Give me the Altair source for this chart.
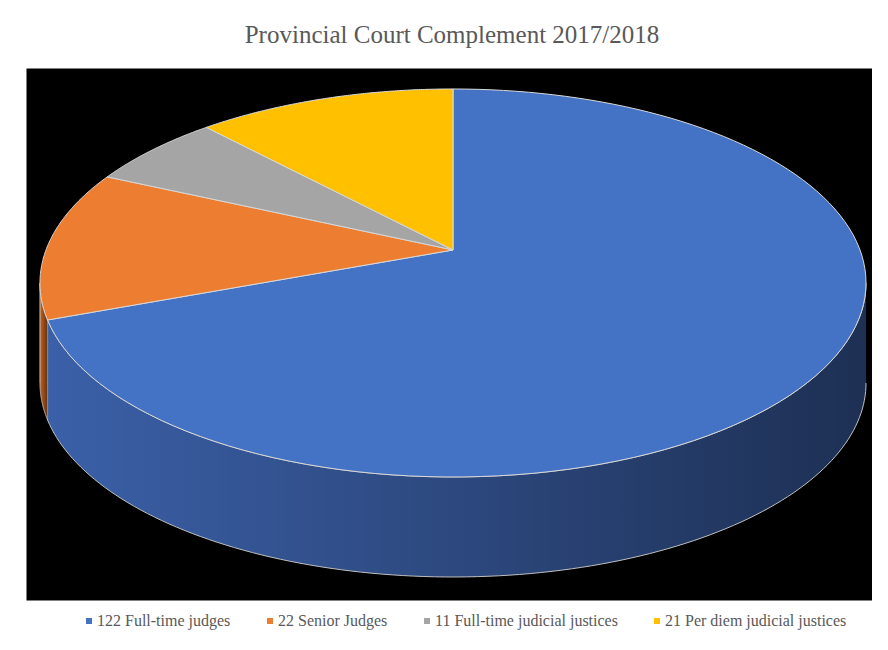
import altair as alt
import pandas as pd

categories = ["122 Full-time judges", "22 Senior Judges",
              "11 Full-time judicial justices", "21 Per diem judicial justices"]
values = [122, 22, 11, 21]
top_colors = ["#4472C4", "#ED7D31", "#A5A5A5", "#FFC000"]
side_colors = ["#3B60A8", "#C4631F", "#7F7F7F", "#C49400"]

df = pd.DataFrame({"category": categories, "value": values,
                   "idx": list(range(len(categories)))})

SERIF = "Liberation Serif, Times New Roman, Times, DejaVu Serif, serif"
P = 0.17        # perspective strength
SX = 0.9855     # horizontal radius factor
SY = 0.9711     # vertical radius factor
DEPTH = 0.5155  # thickness of the pie
N = 120         # points along each rim arc

def proj_x(th):
    return f"{SX}*sin({th})/(1 + {P}*cos({th}))"

def proj_y(th):
    return f"{SY}*cos({th})/(1 + {P}*cos({th}))"

base = alt.Chart(df).transform_joinaggregate(
    total="sum(value)"
).transform_window(
    cum="sum(value)", sort=[alt.SortField("idx")], frame=[None, 0]
).transform_calculate(
    s0="2*PI*(datum.cum - datum.value)/datum.total",
    s1="2*PI*datum.cum/datum.total",
)

xs = alt.Scale(domain=[-1.0339, 1.01453], nice=False, zero=False)
ys = alt.Scale(domain=[-1.8041, 0.9381], nice=False, zero=False)

top = base.transform_calculate(
    ks=f"sequence(-1, {N + 2})"
).transform_flatten(["ks"], as_=["k"]).transform_calculate(
    th=f"datum.s0 + (datum.s1 - datum.s0)*clamp(datum.k, 0, {N})/{N}",
    apex=f"datum.k < 0 || datum.k > {N}",
).transform_calculate(
    px=f"datum.apex ? 0 : {proj_x('datum.th')}",
    py=f"datum.apex ? 0 : {proj_y('datum.th')}",
).mark_line(stroke="#D9D9D9", strokeWidth=1, interpolate="linear").encode(
    x=alt.X("px:Q", scale=xs, axis=None),
    y=alt.Y("py:Q", scale=ys, axis=None),
    fill=alt.Fill("category:N",
                  scale=alt.Scale(domain=categories, range=top_colors),
                  legend=alt.Legend(orient="none", legendX=55, legendY=545,
                                    direction="horizontal", symbolType="square",
                                    symbolSize=36, symbolStrokeWidth=0,
                                    labelFont=SERIF, labelFontSize=16,
                                    labelColor="#595959", columnPadding=31,
                                    labelOffset=0, labelLimit=400, title=None)),
    order=alt.Order("k:Q"),
)

side_base = base.transform_calculate(
    a=f"max(datum.s0, acos(-{P}))", b=f"min(datum.s1, 2*PI - acos(-{P}))"
).transform_filter("datum.a < datum.b").transform_calculate(
    ks=f"sequence(0, {2 * N + 2})"
).transform_flatten(["ks"], as_=["k"]).transform_calculate(
    th=(f"datum.k <= {N} ? datum.a + (datum.b - datum.a)*datum.k/{N}"
        f" : datum.b - (datum.b - datum.a)*(datum.k - {N + 1})/{N}"),
).transform_calculate(
    px=proj_x("datum.th"),
    py=f"datum.k <= {N} ? {proj_y('datum.th')} : {proj_y('datum.th')} - {DEPTH}",
)

side = side_base.mark_line(stroke="transparent", strokeWidth=0).encode(
    x=alt.X("px:Q", scale=xs, axis=None),
    y=alt.Y("py:Q", scale=ys, axis=None),
    fill=alt.Fill("category:N",
                  scale=alt.Scale(domain=categories, range=side_colors),
                  legend=None),
    order=alt.Order("k:Q"),
)

shade = side_base.mark_line(
    fill=alt.LinearGradient(
        gradient="linear",
        stops=[alt.GradientStop(offset=0, color="rgba(0,0,0,0.0)"),
               alt.GradientStop(offset=1, color="rgba(0,0,0,0.5)")],
        x1=0, x2=1, y1=0, y2=0),
    stroke="#BFBFBF", strokeWidth=1,
).encode(
    x=alt.X("px:Q", scale=xs, axis=None),
    y=alt.Y("py:Q", scale=ys, axis=None),
    detail="category:N",
    order=alt.Order("k:Q"),
)

chart = alt.layer(side, shade, top).resolve_scale(
    fill="independent"
).properties(
    width=846, height=532,
    title=alt.Title("Provincial Court Complement 2017/2018",
                    font=SERIF, fontSize=25, fontWeight="normal",
                    color="#595959", offset=20, anchor="middle", dx=3),
    autosize=alt.AutoSizeParams(type="none"),
    padding={"left": 18, "top": 60, "right": 0, "bottom": 35},
    background="white",
).configure_view(fill="black", stroke="transparent")

chart.save("out.html", embed_options={"renderer": "svg", "actions": False})
